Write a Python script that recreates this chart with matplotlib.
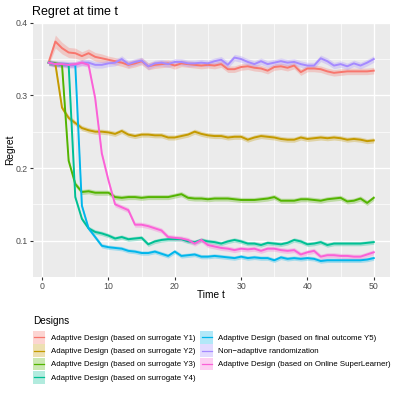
import matplotlib
matplotlib.use("Agg")
import matplotlib.pyplot as plt
from matplotlib.patches import Rectangle
from matplotlib.lines import Line2D
from matplotlib.legend_handler import HandlerBase
import numpy as np

plt.rcParams['font.family'] = ['Liberation Sans', 'DejaVu Sans']

time_t = list(range(1, 51))

labels = [
    "Adaptive Design (based on surrogate Y1)",
    "Adaptive Design (based on surrogate Y2)",
    "Adaptive Design (based on surrogate Y3)",
    "Adaptive Design (based on surrogate Y4)",
    "Adaptive Design (based on final outcome Y5)",
    "Non\u2212adaptive randomization",
    "Adaptive Design (based on Online SuperLearner)",
]
colors = ["#F8766D", "#C49A00", "#53B400", "#00C094", "#00B6EB", "#A58AFF", "#FB61D7"]

regret_y1 = [0.346, 0.374, 0.365, 0.359, 0.358, 0.354, 0.358, 0.353, 0.351, 0.349,
             0.347, 0.345, 0.342, 0.344, 0.347, 0.340, 0.342, 0.343, 0.344, 0.341,
             0.344, 0.343, 0.342, 0.341, 0.342, 0.341, 0.343, 0.336, 0.336, 0.339,
             0.340, 0.338, 0.337, 0.334, 0.339, 0.340, 0.338, 0.341, 0.332, 0.337,
             0.337, 0.336, 0.333, 0.331, 0.332, 0.333, 0.333, 0.333, 0.333, 0.334]
regret_y2 = [0.345, 0.343, 0.283, 0.269, 0.262, 0.255, 0.252, 0.250, 0.250, 0.249,
             0.247, 0.251, 0.246, 0.244, 0.246, 0.246, 0.245, 0.245, 0.242, 0.242,
             0.244, 0.246, 0.250, 0.247, 0.245, 0.244, 0.244, 0.242, 0.243, 0.243,
             0.239, 0.242, 0.244, 0.243, 0.242, 0.240, 0.239, 0.239, 0.242, 0.240,
             0.241, 0.242, 0.241, 0.242, 0.241, 0.239, 0.240, 0.239, 0.237, 0.238]
regret_y3 = [0.345, 0.344, 0.342, 0.210, 0.178, 0.167, 0.168, 0.166, 0.166, 0.166,
             0.160, 0.159, 0.160, 0.160, 0.159, 0.160, 0.160, 0.160, 0.160, 0.162,
             0.164, 0.159, 0.158, 0.158, 0.157, 0.158, 0.158, 0.158, 0.157, 0.156,
             0.156, 0.156, 0.157, 0.158, 0.160, 0.155, 0.155, 0.155, 0.157, 0.157,
             0.156, 0.155, 0.157, 0.158, 0.159, 0.154, 0.155, 0.158, 0.152, 0.159]
regret_y4 = [0.345, 0.343, 0.343, 0.342, 0.160, 0.130, 0.117, 0.112, 0.110, 0.107,
             0.103, 0.105, 0.102, 0.103, 0.104, 0.095, 0.099, 0.101, 0.102, 0.102,
             0.102, 0.099, 0.098, 0.101, 0.099, 0.098, 0.096, 0.099, 0.101, 0.099,
             0.096, 0.096, 0.094, 0.097, 0.096, 0.095, 0.097, 0.101, 0.099, 0.095,
             0.096, 0.098, 0.094, 0.096, 0.096, 0.096, 0.096, 0.096, 0.097, 0.098]
regret_y5 = [0.345, 0.343, 0.343, 0.342, 0.342, 0.148, 0.117, 0.105, 0.093, 0.091,
             0.090, 0.089, 0.086, 0.085, 0.083, 0.083, 0.085, 0.082, 0.079, 0.085,
             0.079, 0.080, 0.081, 0.078, 0.078, 0.079, 0.078, 0.077, 0.076, 0.078,
             0.076, 0.077, 0.076, 0.076, 0.073, 0.077, 0.075, 0.076, 0.075, 0.076,
             0.075, 0.072, 0.073, 0.073, 0.073, 0.073, 0.073, 0.073, 0.074, 0.076]
regret_nonadaptive = [0.345, 0.343, 0.343, 0.342, 0.342, 0.345, 0.345, 0.342, 0.342, 0.344,
                      0.345, 0.350, 0.343, 0.346, 0.348, 0.340, 0.344, 0.345, 0.343, 0.346,
                      0.346, 0.344, 0.344, 0.345, 0.344, 0.347, 0.349, 0.342, 0.352, 0.350,
                      0.346, 0.343, 0.347, 0.343, 0.345, 0.347, 0.345, 0.346, 0.343, 0.341,
                      0.341, 0.351, 0.347, 0.341, 0.343, 0.340, 0.344, 0.341, 0.345, 0.350]
regret_osl = [0.345, 0.343, 0.343, 0.342, 0.343, 0.345, 0.342, 0.296, 0.220, 0.183,
              0.150, 0.146, 0.142, 0.122, 0.122, 0.120, 0.117, 0.114, 0.105, 0.104,
              0.103, 0.101, 0.096, 0.101, 0.094, 0.092, 0.090, 0.089, 0.087, 0.089,
              0.088, 0.089, 0.086, 0.089, 0.089, 0.087, 0.086, 0.087, 0.081, 0.084,
              0.086, 0.078, 0.080, 0.080, 0.079, 0.079, 0.078, 0.078, 0.081, 0.084]

# confidence band half-widths read from the ribbons
ci_y1 = [0.004, 0.009, 0.008, 0.007, 0.007, 0.006, 0.006, 0.006, 0.006, 0.005,
         0.005, 0.005, 0.005, 0.005, 0.005, 0.005, 0.005, 0.005, 0.005, 0.005,
         0.0045, 0.0045, 0.0045, 0.0045, 0.0045, 0.0045, 0.0045, 0.0045, 0.0045, 0.0045,
         0.0045, 0.0045, 0.0045, 0.0045, 0.0045, 0.0045, 0.0045, 0.0045, 0.0045, 0.0045,
         0.0045, 0.0045, 0.0045, 0.0045, 0.0045, 0.0045, 0.0045, 0.0045, 0.0045, 0.0045]
ci_other = [0.0035, 0.0035, 0.0035, 0.003, 0.003, 0.0045, 0.0035]

series = [regret_y1, regret_y2, regret_y3, regret_y4, regret_y5, regret_nonadaptive, regret_osl]

W = H = 395
fig = plt.figure(figsize=(W / 100, H / 100), dpi=100)
pl, pr, pt_, pb = 32.5, 390, 22.7, 277
ax = fig.add_axes([pl / W, 1 - pb / H, (pr - pl) / W, (pb - pt_) / H])
ax.set_facecolor("#EBEBEB")
for s in ax.spines.values():
    s.set_visible(False)

t = np.array(time_t)
for i, (vals, c) in enumerate(zip(series, colors)):
    v = np.array(vals)
    hw = np.array(ci_y1) if i == 0 else ci_other[i]
    ax.fill_between(t, v - hw, v + hw, color=c, alpha=0.3, linewidth=0, zorder=2)
for i, (vals, c) in enumerate(zip(series, colors)):
    ax.plot(t, vals, color=c, lw=1.4, zorder=3, solid_joinstyle='round')

ax.set_xlim(-1.45, 52.45)
ax.set_ylim(0.0525, 0.3995)
ax.set_xticks([0, 10, 20, 30, 40, 50])
ax.set_yticks([0.1, 0.2, 0.3, 0.4])
ax.set_yticklabels(["0.1", "0.2", "0.3", "0.4"])
ax.set_xticks([5, 15, 25, 35, 45], minor=True)
ax.set_yticks([0.05, 0.15, 0.25, 0.35], minor=True)
ax.grid(which='major', color='white', lw=1.0, zorder=1)
ax.grid(which='minor', color='white', lw=0.5, zorder=1)
ax.set_axisbelow(True)
ax.tick_params(which='major', length=2.0, width=0.8, color='#333333',
               labelsize=6.3, labelcolor='#4D4D4D', pad=1.6)
ax.tick_params(which='minor', length=0)

fig.text(pl / W, 1 - 15 / H, "Regret at time t", fontsize=9.0, ha='left', va='baseline', color='black')
fig.text((pl + pr) / 2 / W, 1 - 295 / H, "Time t", fontsize=7.3, ha='center', va='center')
fig.text(10 / W, 1 - 150 / H, "Regret", fontsize=7.3, ha='center', va='center', rotation=90)
fig.text(33 / W, 1 - 323.7 / H, "Designs", fontsize=7.2, ha='left', va='baseline')


class KeyHandler(HandlerBase):
    def create_artists(self, legend, orig_handle, xdescent, ydescent, width, height, fontsize, trans):
        c = orig_handle.get_color()
        rect = Rectangle((-xdescent, -ydescent), width, height, facecolor=c, alpha=0.3,
                         edgecolor='none', transform=trans)
        y = -ydescent + height / 2
        line = Line2D([-xdescent + width * 0.1, -xdescent + width * 0.9], [y, y],
                      color=c, lw=0.9, transform=trans)
        return [rect, line]


handles = [Line2D([], [], color=c) for c in colors]
fs = 5.65
leg = fig.legend(handles, labels, loc='upper left', bbox_to_anchor=(32.7 / W, 1 - 331 / H),
                 ncol=2, frameon=False, fontsize=fs,
                 handlelength=1.6, handleheight=2.15, labelspacing=0.05, handletextpad=0.68,
                 columnspacing=0.67, borderpad=0, borderaxespad=0,
                 handler_map={Line2D: KeyHandler()})

fig.savefig("out.png", dpi=100)
